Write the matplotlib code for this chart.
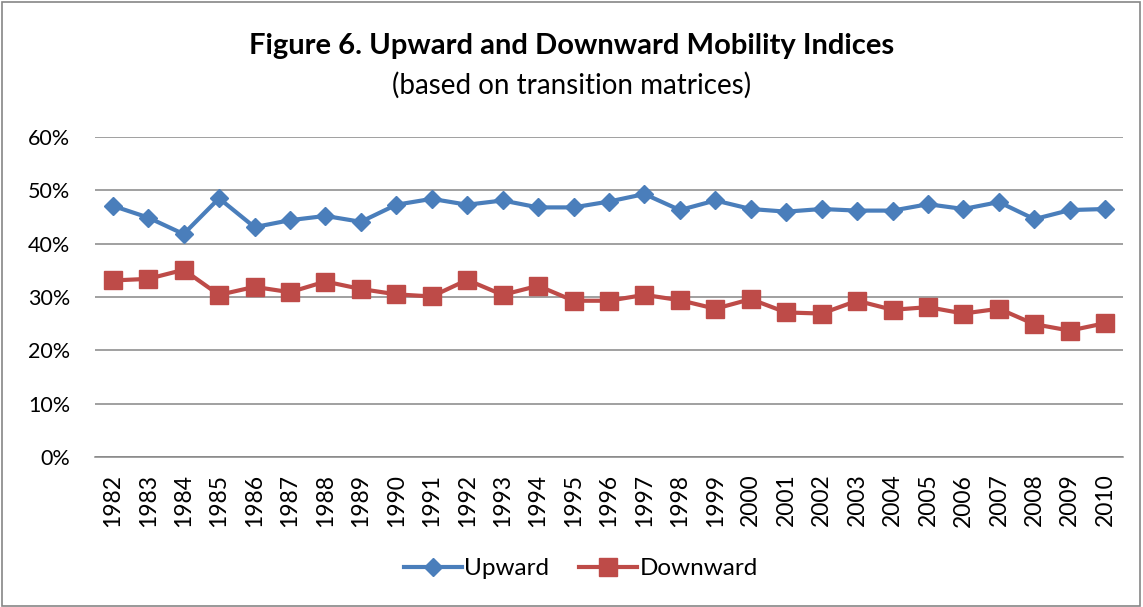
import matplotlib
matplotlib.use("Agg")
import matplotlib.pyplot as plt
from matplotlib.patches import Rectangle
from matplotlib.ticker import PercentFormatter

years = [str(y) for y in range(1982, 2011)]
upward = [47.1, 44.9, 41.8, 48.5, 43.1, 44.4, 45.2, 44.1, 47.3, 48.4,
          47.3, 48.1, 46.8, 46.8, 47.9, 49.3, 46.3, 48.1, 46.5, 46.0,
          46.5, 46.2, 46.2, 47.4, 46.5, 47.8, 44.6, 46.3, 46.5]
downward = [33.1, 33.4, 35.1, 30.4, 31.9, 30.9, 32.9, 31.5, 30.5, 30.1,
            33.2, 30.4, 32.1, 29.3, 29.3, 30.4, 29.4, 27.8, 29.6, 27.1,
            26.9, 29.3, 27.6, 28.1, 26.9, 27.8, 24.9, 23.7, 25.1]
yticks = [0, 10, 20, 30, 40, 50, 60]

plt.rcParams['font.family'] = ['Lato', 'DejaVu Sans']

fig = plt.figure(figsize=(11.43, 6.07), dpi=100)
fig.patches.append(Rectangle((0.002, 0.002), 0.995, 0.995, transform=fig.transFigure,
                             fill=False, edgecolor='#868686', linewidth=1.2))
ax = fig.add_axes([0.0831, 0.2471, 0.8994, 0.5272])

x = list(range(len(years)))
ax.plot(x, upward, color='#4A7EBB', lw=3, marker='D', ms=9.5, label='Upward', zorder=3)
ax.plot(x, downward, color='#BE4B48', lw=3, marker='s', ms=13.5, label='Downward', zorder=3)

ax.set_xlim(-0.5, len(years) - 0.5)
ax.set_ylim(0, 60)
ax.set_yticks(yticks)
ax.yaxis.set_major_formatter(PercentFormatter(decimals=0))
ax.set_xticks(x)
ax.set_xticklabels(years, rotation=90)
ax.grid(axis='y', color='#868686', lw=1.1)
ax.set_axisbelow(True)
for s in ['left', 'right', 'top']:
    ax.spines[s].set_visible(False)
ax.spines['bottom'].set_color('#868686')
ax.spines['bottom'].set_linewidth(1.1)
ax.tick_params(axis='y', length=0, pad=18, labelsize=15.5)
ax.tick_params(axis='x', length=0, pad=12, labelsize=16.5)

fig.text(0.5, 0.924, 'Figure 6. Upward and Downward Mobility Indices', ha='center', va='center',
         fontsize=21, fontweight='bold')
fig.text(0.5, 0.859, '(based on transition matrices)', ha='center', va='center', fontsize=20)

leg = fig.legend(loc='center', bbox_to_anchor=(0.508, 0.063), ncol=2, frameon=False,
                 fontsize=17.5, handlelength=2.4, handletextpad=0.1, columnspacing=1.2)

fig.savefig('out.png', dpi=100)
